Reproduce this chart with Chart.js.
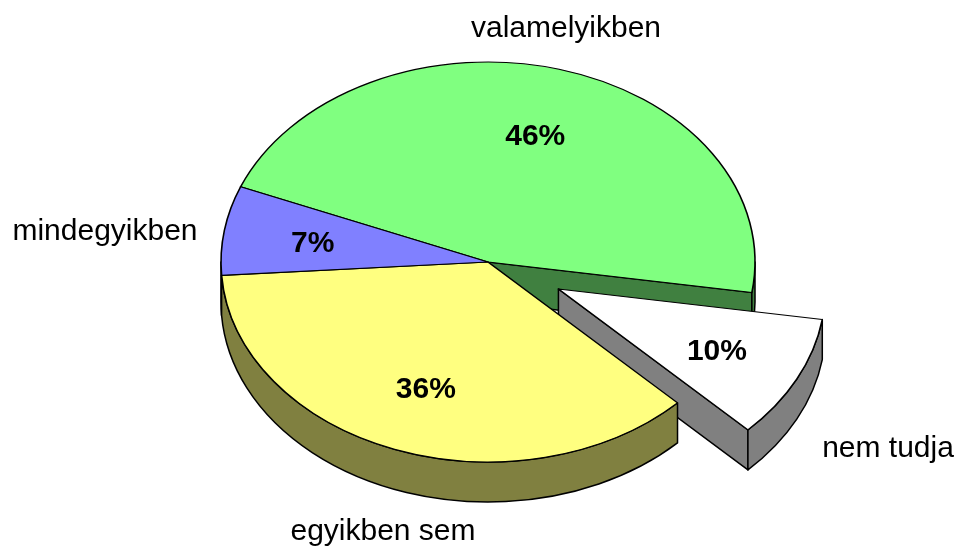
<!DOCTYPE html>
<html>
<head>
<meta charset="utf-8">
<script src="https://cdn.jsdelivr.net/npm/chart.js@4"></script>
<style>
html,body{margin:0;padding:0;background:#fff;overflow:hidden}
#wrap{position:relative;width:957px;height:549px}
</style>
</head>
<body>
<div id="wrap"><canvas id="c" width="957" height="549"></canvas></div>
<script>
const categories = ["valamelyikben", "nem tudja", "egyikben sem", "mindegyikben"];
const shares = [46.3, 10, 36.5, 7.2];
const percentLabels = ["46%", "10%", "36%", "7%"];
const topColors = ["#80ff80", "#ffffff", "#ffff80", "#8080ff"];
const wallColors = ["#408040", "#808080", "#808040", "#404080"];
const explodePx = [0, 80, 0, 0];
const wallOrder = [3, 0, 1, 2];
const namePlacement = [[566, 29], [888, 449], [383, 532], [105, 232]];

const RX = 267, TILT = 200 / 267, DEPTH = 40, FONT = "'Liberation Sans', Arial, sans-serif";

const pie3d = {
  id: "pie3d",
  afterDatasetsUpdate(chart) {
    chart.getDatasetMeta(0).data.forEach((arc, i) => {
      const mid = (arc.startAngle + arc.endAngle) / 2;
      arc._baseY = arc.y;
      arc.x += Math.cos(mid) * explodePx[i] - (explodePx[i] ? 1 : 0);
      arc.y += Math.sin(mid) * explodePx[i];
    });
  },
  beforeDatasetsDraw(chart) {
    const ctx = chart.ctx;
    const arcs = chart.getDatasetMeta(0).data;
    const cy0 = arcs[0]._baseY;
    ctx.save();
    ctx.lineWidth = 1.5;
    ctx.strokeStyle = "#000";
    ctx.lineJoin = "round";
    wallOrder.forEach((i) => {
      const arc = arcs[i];
      const s = arc.startAngle, e = arc.endAngle, r = arc.outerRadius;
      const cx = arc.x, cy = cy0 + (arc.y - cy0) * TILT;
      ctx.fillStyle = wallColors[i];
      const pt = (ang, d) => [cx + Math.cos(ang) * r, cy + Math.sin(ang) * r * TILT + d];
      const face = (ang) => {
        const a = pt(ang, 0), b = pt(ang, DEPTH);
        ctx.beginPath();
        ctx.moveTo(cx, cy); ctx.lineTo(a[0], a[1]); ctx.lineTo(b[0], b[1]); ctx.lineTo(cx, cy + DEPTH);
        ctx.closePath(); ctx.fill(); ctx.stroke();
      };
      if (Math.cos(e) > 0) face(e);
      if (Math.cos(s) < 0) face(s);
      for (let k = -1; k <= 2; k++) {
        const lo = Math.max(s, k * 2 * Math.PI), hi = Math.min(e, k * 2 * Math.PI + Math.PI);
        if (hi <= lo) continue;
        ctx.beginPath();
        ctx.ellipse(cx, cy, r, r * TILT, 0, lo, hi);
        ctx.ellipse(cx, cy + DEPTH, r, r * TILT, 0, hi, lo, true);
        ctx.closePath(); ctx.fill(); ctx.stroke();
      }
    });
    ctx.restore();
    ctx.save();
    ctx.translate(0, cy0);
    ctx.scale(1, TILT);
    ctx.translate(0, -cy0);
  },
  afterDatasetsDraw(chart) {
    const ctx = chart.ctx;
    ctx.restore();
    const arcs = chart.getDatasetMeta(0).data;
    const cy0 = arcs[0]._baseY;
    ctx.save();
    ctx.fillStyle = "#000";
    ctx.textAlign = "center";
    ctx.textBaseline = "middle";
    ctx.font = "bold 30px " + FONT;
    arcs.forEach((arc, i) => {
      const mid = (arc.startAngle + arc.endAngle) / 2, r = arc.outerRadius * 0.665;
      const cy = cy0 + (arc.y - cy0) * TILT;
      ctx.fillText(percentLabels[i], arc.x + Math.cos(mid) * r, cy + Math.sin(mid) * r * TILT + 3);
    });
    ctx.font = "30px " + FONT;
    categories.forEach((name, i) => ctx.fillText(name, namePlacement[i][0], namePlacement[i][1]));
    ctx.restore();
  }
};

new Chart(document.getElementById("c"), {
  type: "pie",
  data: {
    labels: categories,
    datasets: [{
      data: shares,
      backgroundColor: topColors,
      borderColor: "#000",
      borderWidth: 1.6,
      borderJoinStyle: "round",
      clip: false
    }]
  },
  options: {
    responsive: false,
    animation: false,
    events: [],
    radius: RX,
    rotation: 292.1,
    layout: { padding: { left: 19, bottom: 25 } },
    plugins: { legend: { display: false }, tooltip: { enabled: false } }
  },
  plugins: [pie3d]
});
</script>
</body>
</html>
